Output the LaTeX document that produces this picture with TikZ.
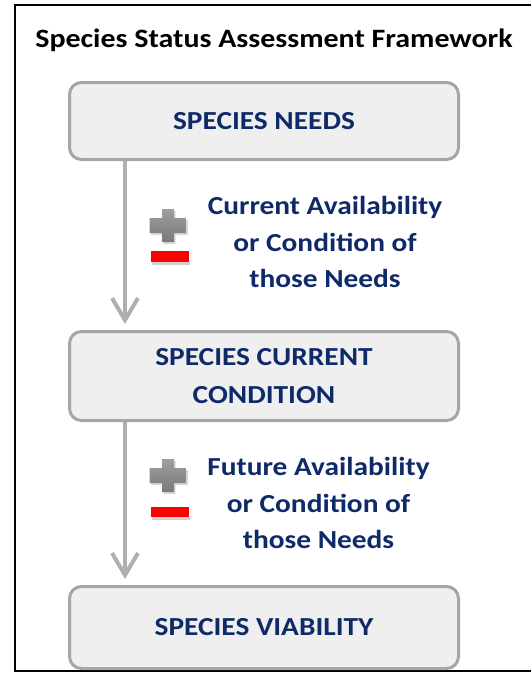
\documentclass[tikz,border=0pt]{standalone}
\usepackage{fontspec}
\setmainfont[FakeStretch=1.13]{Carlito}
\usetikzlibrary{arrows.meta}
\definecolor{navy}{HTML}{0F2A68}
\definecolor{boxfill}{HTML}{EFEFEF}
\definecolor{boxline}{HTML}{A6A6A6}
\definecolor{arrgray}{HTML}{AFAFAF}
\begin{document}
\begin{tikzpicture}[x=1pt,y=-1pt,
  stagebox/.style={draw=boxline, line width=3pt, fill=boxfill, rounded corners=12pt,
    minimum width=389pt, font=\fontsize{26}{38}\selectfont\bfseries, text=navy,
    align=center, inner sep=0pt},
  flow/.style={draw=arrgray, line width=4pt,
    -{Straight Barb[length=22pt,width=26pt]}, shorten >=6pt},
  note/.style={font=\fontsize{26}{36.5}\selectfont\bfseries, text=navy,
    align=center, inner sep=0pt},
  plussign/.style={top color=gray!75, bottom color=gray!95!black},
  minusbar/.style={fill=red},
  minusshadow/.style={fill=black!18},
]
\useasboundingbox (0,0) rectangle (531,673);
% outer frame
\draw[line width=2.5pt] (531,5) -- (15,5) -- (15,671) -- (531,671);
% title
\node[font=\fontsize{26.5}{30}\selectfont\bfseries, anchor=base, inner sep=0pt] (title) at (274,47)
  {Species Status Assessment Framework};
% boxes
\node[stagebox, minimum height=77pt] (needs) at (264,121) {SPECIES NEEDS};
\node[stagebox, minimum height=89pt] (current) at (264,376) {SPECIES CURRENT\\CONDITION};
\node[stagebox, minimum height=82pt] (viab) at (264,627.5) {SPECIES VIABILITY};
% connectors
\coordinate (ax) at (125,0);
\draw[flow] (needs.south -| ax) -- (current.north -| ax);
\draw[flow] (current.south -| ax) -- (viab.north -| ax);
% plus / minus 1
\fill[black!15] (151,220) rectangle (188,235) (163.5,211) rectangle (175.5,244);
\shade[plussign] (149.5,218) rectangle (186.5,233) (162,209) rectangle (174,242);
\fill[minusshadow] (152,262) rectangle (190,265);
\fill[minusbar] (151,251) rectangle (189,262);
% plus / minus 2
\fill[black!15] (151,470) rectangle (188,485) (163.5,461) rectangle (175.5,494);
\shade[plussign] (149.5,468) rectangle (186.5,483) (162,459) rectangle (174,492);
\fill[minusshadow] (152,517) rectangle (190,520);
\fill[minusbar] (151,507) rectangle (189,517);
% labels
\node[note] (curtxt) at (325,242) {Current Availability\\or Condition of\\those Needs};
\node[note] (futtxt) at (318.5,503) {Future Availability\\or Condition of\\those Needs};
\end{tikzpicture}
\end{document}
